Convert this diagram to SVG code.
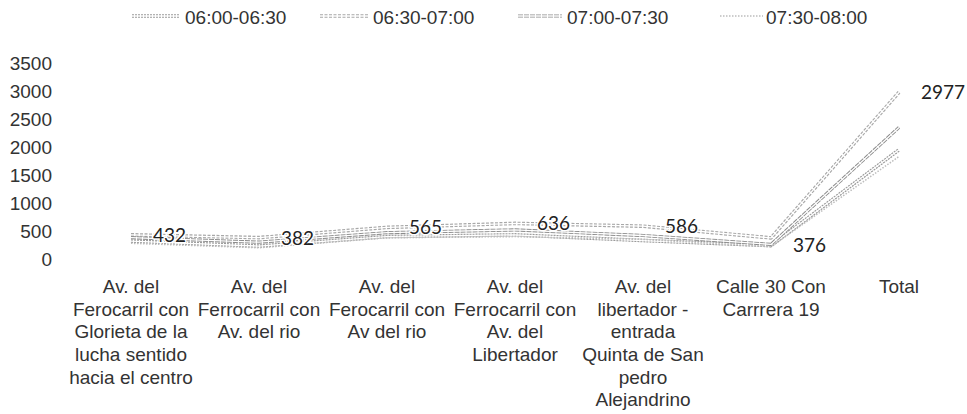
<svg xmlns="http://www.w3.org/2000/svg" width="967" height="414" viewBox="0 0 967 414">
<style>
  .t{font-family:"Liberation Sans",Arial,sans-serif;fill:#333}
  .ax{font-size:19px;text-anchor:end}
  .cat{font-size:19px;text-anchor:middle}
  .lg{font-size:19px}
  .dl{font-family:Lato,"Open Sans",sans-serif;font-size:19px;fill:#222;stroke:#fff;stroke-width:3px;paint-order:stroke;stroke-linejoin:round}
  .s{fill:none;stroke-linejoin:round}
  .s1a{stroke:#9a9a9a;stroke-width:3.6;stroke-dasharray:2 1}
  .s2a{stroke:#a8a8a8;stroke-width:3.6;stroke-dasharray:3 1.5}
  .s3a{stroke:#8c8c8c;stroke-width:3.2;stroke-dasharray:5 1}
  .in{stroke:#fff;stroke-width:1.3}
  .s4a{stroke:#bdbdbd;stroke-width:1.5;stroke-dasharray:1.5 1.5}
</style>

<g id="legend">
  <g id="legend-1">
    <line class="s s1a" x1="132" y1="16" x2="179" y2="16"/><line class="s in" x1="132" y1="16" x2="179" y2="16"/>
    <text class="t lg" x="185" y="24">06:00-06:30</text>
  </g>
  <g id="legend-2">
    <line class="s s2a" x1="320" y1="16" x2="368" y2="16"/><line class="s in" x1="320" y1="16" x2="368" y2="16"/>
    <text class="t lg" x="373" y="24">06:30-07:00</text>
  </g>
  <g id="legend-3">
    <line class="s s3a" x1="518" y1="16" x2="562" y2="16"/><line class="s in" x1="518" y1="16" x2="562" y2="16"/>
    <text class="t lg" x="567" y="24">07:00-07:30</text>
  </g>
  <g id="legend-4">
    <line class="s s4a" x1="720" y1="16" x2="763" y2="16"/>
    <text class="t lg" x="766" y="24">07:30-08:00</text>
  </g>
</g>

<g id="y-axis">
  <text class="t ax" x="52" y="70">3500</text>
  <text class="t ax" x="52" y="98">3000</text>
  <text class="t ax" x="52" y="126">2500</text>
  <text class="t ax" x="52" y="154">2000</text>
  <text class="t ax" x="52" y="182">1500</text>
  <text class="t ax" x="52" y="210">1000</text>
  <text class="t ax" x="52" y="238">500</text>
  <text class="t ax" x="52" y="266">0</text>
</g>

<g id="connectors">
  <g id="series-06-00">
    <polyline class="s s1a" points="131,241.1 259,246.1 387,236.6 515,234.9 643,240.5 771,245.6 899,149.8"/>
    <polyline class="s in" points="131,241.1 259,246.1 387,236.6 515,234.9 643,240.5 771,245.6 899,149.8"/>
  </g>
  <g id="series-06-30">
    <polyline class="s s2a" points="131,234.8 259,237.6 387,227.4 515,223.4 643,226.2 771,237.9 899,92.3"/>
    <polyline class="s in" points="131,234.8 259,237.6 387,227.4 515,223.4 643,226.2 771,237.9 899,92.3"/>
  </g>
  <g id="series-07-00">
    <polyline class="s s3a" points="131,237.7 259,242.2 387,232.7 515,229.9 643,235.5 771,244.4 899,127.4"/>
    <polyline class="s in" points="131,237.7 259,242.2 387,232.7 515,229.9 643,235.5 771,244.4 899,127.4"/>
  </g>
  <g id="series-07-30">
    <polyline class="s s4a" points="131,243.3 259,247.8 387,237.7 515,236.6 643,239.4 771,246.7 899,156.5"/>
  </g>
</g>

<g id="data-labels">
  <text class="dl" x="153" y="242">432</text>
  <text class="dl" x="281" y="245">382</text>
  <text class="dl" x="409" y="234">565</text>
  <text class="dl" x="537" y="230">636</text>
  <text class="dl" x="665" y="233">586</text>
  <text class="dl" x="793" y="252">376</text>
  <text class="dl" x="921" y="99">2977</text>
</g>

<g id="categories">
  <g id="cat-1">
    <text class="t cat" x="131" y="293">Av. del</text>
    <text class="t cat" x="131" y="316">Ferocarril con</text>
    <text class="t cat" x="131" y="338">Glorieta de la</text>
    <text class="t cat" x="131" y="361">lucha sentido</text>
    <text class="t cat" x="131" y="384">hacia el centro</text>
  </g>
  <g id="cat-2">
    <text class="t cat" x="259" y="293">Av. del</text>
    <text class="t cat" x="259" y="316">Ferrocarril con</text>
    <text class="t cat" x="259" y="338">Av. del rio</text>
  </g>
  <g id="cat-3">
    <text class="t cat" x="387" y="293">Av. del</text>
    <text class="t cat" x="387" y="316">Ferocarril con</text>
    <text class="t cat" x="387" y="338">Av del rio</text>
  </g>
  <g id="cat-4">
    <text class="t cat" x="515" y="293">Av. del</text>
    <text class="t cat" x="515" y="316">Ferrocarril con</text>
    <text class="t cat" x="515" y="338">Av. del</text>
    <text class="t cat" x="515" y="361">Libertador</text>
  </g>
  <g id="cat-5">
    <text class="t cat" x="643" y="293">Av. del</text>
    <text class="t cat" x="643" y="316">libertador -</text>
    <text class="t cat" x="643" y="338">entrada</text>
    <text class="t cat" x="643" y="361">Quinta de San</text>
    <text class="t cat" x="643" y="384">pedro</text>
    <text class="t cat" x="643" y="406">Alejandrino</text>
  </g>
  <g id="cat-6">
    <text class="t cat" x="771" y="293">Calle 30 Con</text>
    <text class="t cat" x="771" y="316">Carrrera 19</text>
  </g>
  <g id="cat-7">
    <text class="t cat" x="899" y="293">Total</text>
  </g>
</g>
</svg>
